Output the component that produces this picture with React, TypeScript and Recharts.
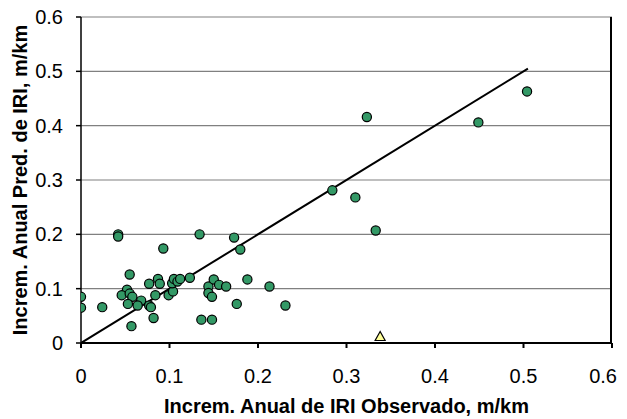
import React from 'react';
import { ScatterChart, Scatter, XAxis, YAxis, CartesianGrid } from 'recharts';

const observed = [0, 0, 0.024, 0.042, 0.042, 0.055, 0.052, 0.046, 0.055, 0.058, 0.053, 0.068, 0.064, 0.057, 0.077, 0.077, 0.079, 0.082, 0.084, 0.087, 0.089, 0.093, 0.099, 0.104, 0.103, 0.105, 0.109, 0.112, 0.123, 0.134, 0.136, 0.144, 0.144, 0.148, 0.148, 0.150, 0.156, 0.164, 0.173, 0.176, 0.180, 0.188, 0.213, 0.231, 0.284, 0.310, 0.323, 0.333, 0.449, 0.504];
const predicted = [0.085, 0.065, 0.066, 0.2, 0.196, 0.126, 0.098, 0.088, 0.091, 0.085, 0.072, 0.078, 0.069, 0.031, 0.109, 0.069, 0.066, 0.046, 0.088, 0.118, 0.109, 0.174, 0.088, 0.095, 0.11, 0.118, 0.113, 0.118, 0.12, 0.2, 0.043, 0.104, 0.092, 0.085, 0.043, 0.117, 0.107, 0.104, 0.194, 0.072, 0.172, 0.117, 0.104, 0.069, 0.281, 0.268, 0.416, 0.207, 0.406, 0.463];
const outlierObserved = [0.338];
const outlierPredicted = [0.012];
const lineX = [0, 0.505];
const lineY = [0, 0.505];
const ticks = [0, 0.1, 0.2, 0.3, 0.4, 0.5, 0.6];
const xMax = 0.6;
const yMax = 0.6;
const xTitle = 'Increm. Anual de IRI Observado, m/km';
const yTitle = 'Increm. Anual Pred. de IRI, m/km';

const points = observed.map((x, i) => ({ x, y: predicted[i] }));
const outliers = outlierObserved.map((x, i) => ({ x, y: outlierPredicted[i] }));
const line = lineX.map((x, i) => ({ x, y: lineY[i] }));

const FONT = '"Liberation Sans", Arial, sans-serif';

const Circle = (props: any) => (
  <circle cx={props.cx} cy={props.cy} r={4.6} fill="#339966" stroke="#000" strokeWidth={1.2} />
);
const Tri = (props: any) => {
  const { cx, cy } = props;
  return (
    <polygon
      points={`${cx},${cy - 5} ${cx - 5},${cy + 4} ${cx + 5},${cy + 4}`}
      fill="#FFFF99"
      stroke="#000"
      strokeWidth={1.2}
    />
  );
};
const NoShape = () => <g />;

const XTick = (props: any) => {
  const { x, y, payload, index } = props;
  const last = index === ticks.length - 1;
  return (
    <text
      x={last ? x + 5 : x}
      y={y}
      dy="0.71em"
      textAnchor={last ? 'end' : 'middle'}
      fill="#000"
      fontSize={20}
      fontFamily={FONT}
    >
      {payload.value}
    </text>
  );
};

const rightEdge = (args: any) => {
  const off = args && args.offset ? args.offset : {};
  const w = typeof off.width === 'number' ? off.width : 531;
  const l = typeof off.left === 'number' ? off.left : 81;
  return [l + w - 1];
};

export default function App() {
  return (
    <div style={{ position: 'absolute', left: 0, top: 0, width: 627, height: 419 }}>
      <ScatterChart width={627} height={419} margin={{ top: 17, right: 15, left: 0, bottom: 0 }}>
        <CartesianGrid vertical={false} stroke="#808080" strokeWidth={1.2} />
        <CartesianGrid horizontal={false} verticalCoordinatesGenerator={rightEdge} stroke="#000" strokeWidth={2} />
        <XAxis
          type="number"
          dataKey="x"
          domain={[0, xMax]}
          ticks={ticks}
          interval={0}
          height={76}
          tickSize={5}
          tickMargin={21}
          stroke="#000"
          strokeWidth={2}
          tick={XTick}
          allowDataOverflow
          label={{ value: xTitle, position: 'insideBottom', offset: 6, fill: '#000', fontSize: 20, fontWeight: 'bold', fontFamily: FONT }}
        />
        <YAxis
          type="number"
          dataKey="y"
          domain={[0, yMax]}
          ticks={ticks}
          interval={0}
          width={81}
          tickSize={5}
          tickMargin={13}
          stroke="#000"
          strokeWidth={1.5}
          tick={{ fill: '#000', fontSize: 20, fontFamily: FONT }}
          allowDataOverflow
          label={{ value: yTitle, angle: -90, position: 'insideLeft', offset: 20, fill: '#000', fontSize: 20, fontWeight: 'bold', fontFamily: FONT, style: { textAnchor: 'middle' } }}
        />
        <Scatter data={line} line={{ stroke: '#000', strokeWidth: 2 }} shape={NoShape} isAnimationActive={false} />
        <Scatter data={points} shape={Circle} isAnimationActive={false} />
        <Scatter data={outliers} shape={Tri} isAnimationActive={false} />
      </ScatterChart>
    </div>
  );
}
